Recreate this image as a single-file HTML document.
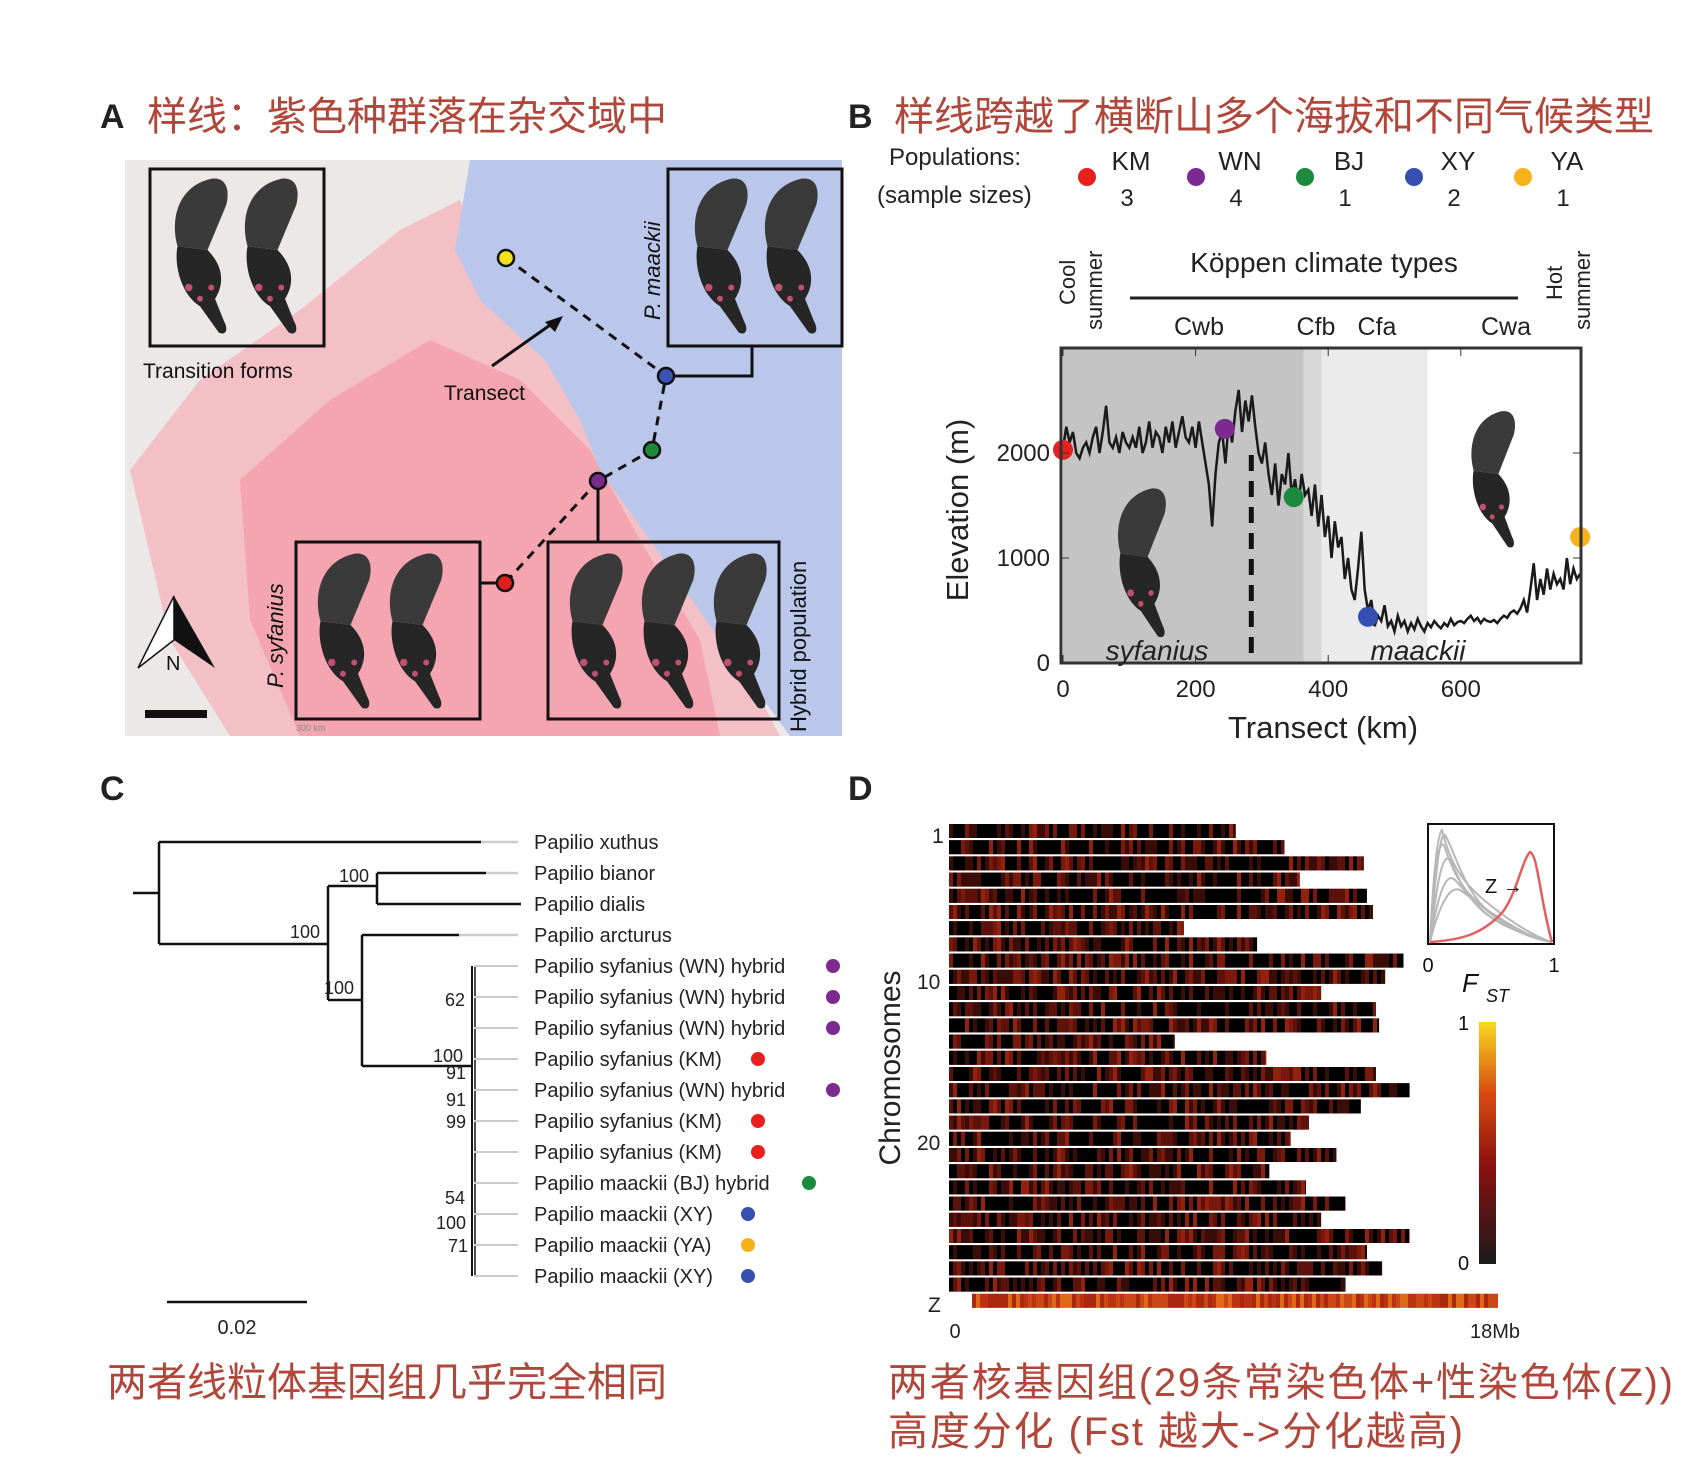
<!DOCTYPE html>
<html><head><meta charset="utf-8"><style>
body{margin:0;background:#fff;}
svg text{font-family:"Liberation Sans","DejaVu Sans","Noto Sans CJK SC",sans-serif;}
.cn{font-family:"Liberation Sans","Noto Sans CJK SC",sans-serif;fill:#b0473b;}
</style></head><body>
<svg id="fig" width="1700" height="1459" viewBox="0 0 1700 1459" xmlns="http://www.w3.org/2000/svg">
<defs>
<g id="bfly">
 <path d="M30,95 C20,60 30,15 75,5 C95,2 100,20 95,40 L70,100 Z" fill="#3a3a3a"/>
 <path d="M30,95 C25,120 35,160 60,175 L85,210 C95,215 98,205 92,195 L80,165 C90,150 95,125 70,100 Z" fill="#262626"/>
 <circle cx="45" cy="150" r="5" fill="#c05070"/><circle cx="60" cy="165" r="4" fill="#c05070"/><circle cx="75" cy="150" r="4" fill="#c05070"/>
</g>
<clipPath id="mapclip"><rect x="125" y="160" width="717" height="576"/></clipPath>
</defs>

<!-- Panel A -->
<text x="100" y="128" font-size="34" font-weight="bold" fill="#222">A</text>
<text x="147" y="130" font-size="40" class="cn" textLength="520">样线：紫色种群落在杂交域中</text>
<g clip-path="url(#mapclip)">
 <rect x="125" y="160" width="717" height="576" fill="#ece8e8"/>
 <polygon points="130,470 200,380 300,310 400,230 460,200 490,290 560,360 600,430 650,520 720,620 780,736 230,736 170,640" fill="#f5b3ba" opacity="0.75"/>
 <polygon points="240,480 330,400 430,340 520,380 590,450 640,540 700,640 720,736 300,736 250,620" fill="#f39aa5" opacity="0.7"/>
 <polygon points="470,160 842,160 842,736 790,736 720,640 650,540 600,470 580,420 545,360 480,300 455,250" fill="#bac6ea"/>
</g>
<g fill="none" stroke="#111" stroke-width="3">
 <rect x="150" y="169" width="174" height="177"/>
 <rect x="668" y="169" width="174" height="177"/>
 <rect x="296" y="542" width="184" height="177"/>
 <rect x="548" y="542" width="231" height="177"/>
 <polyline points="666,376 752,376 752,346"/>
 <line x1="598" y1="481" x2="598" y2="542"/>
 <line x1="480" y1="583" x2="505" y2="583"/>
 <polyline points="506,258 666,376 652,450 598,481 505,583" stroke-dasharray="9,7"/>
 <line x1="492" y1="366" x2="553" y2="323"/>
</g>
<polygon points="563,316 545,322 555,332" fill="#111"/>
<g transform="translate(155,175) scale(0.75)"><use href="#bfly"/></g><g transform="translate(225,175) scale(0.75)"><use href="#bfly"/></g>
<g transform="translate(675,175) scale(0.75)"><use href="#bfly"/></g><g transform="translate(745,175) scale(0.75)"><use href="#bfly"/></g>
<g transform="translate(298,550) scale(0.75)"><use href="#bfly"/></g><g transform="translate(370,550) scale(0.75)"><use href="#bfly"/></g>
<g transform="translate(550,550) scale(0.75)"><use href="#bfly"/></g><g transform="translate(622,550) scale(0.75)"><use href="#bfly"/></g><g transform="translate(694,550) scale(0.75)"><use href="#bfly"/></g>
<g stroke="#111" stroke-width="2.5">
 <circle cx="506" cy="258" r="8" fill="#f5e21b"/>
 <circle cx="666" cy="376" r="8" fill="#3b55b5"/>
 <circle cx="652" cy="450" r="8" fill="#1c8a3a"/>
 <circle cx="598" cy="481" r="8" fill="#7a2a8a"/>
 <circle cx="505" cy="583" r="8" fill="#e02020"/>
</g>
<text x="143" y="378" font-size="21" fill="#111">Transition forms</text>
<text x="444" y="400" font-size="21" fill="#111">Transect</text>
<text transform="translate(660,320) rotate(-90)" font-size="22" font-style="italic" fill="#111">P. maackii</text>
<text transform="translate(283,688) rotate(-90)" font-size="22" font-style="italic" fill="#111">P. syfanius</text>
<text transform="translate(806,732) rotate(-90)" font-size="22" fill="#111">Hybrid population</text>
<g>
 <polygon points="174,596 138,668 174,640" fill="#fff" stroke="#111" stroke-width="1.5"/>
 <polygon points="174,596 215,668 174,640" fill="#111"/>
 <text x="166" y="670" font-size="20" fill="#111">N</text>
</g>
<rect x="145" y="710" width="62" height="8" fill="#111"/>
<text x="296" y="731" font-size="9" fill="#888">300 km</text>

<!-- Panel B -->
<text x="848" y="128" font-size="34" font-weight="bold" fill="#222">B</text>
<text x="894" y="130" font-size="40" class="cn" textLength="760">样线跨越了横断山多个海拔和不同气候类型</text>
<text x="889" y="165" font-size="24" fill="#222">Populations:</text>
<text x="877" y="203" font-size="24" fill="#222">(sample sizes)</text>
<g id="legend"></g>
<text x="1324" y="272" font-size="28" text-anchor="middle" fill="#222">Köppen climate types</text>
<line x1="1130" y1="298" x2="1518" y2="298" stroke="#222" stroke-width="3"/>
<g font-size="25" fill="#222" text-anchor="middle">
 <text x="1199" y="335">Cwb</text><text x="1316" y="335">Cfb</text><text x="1377" y="335">Cfa</text><text x="1506" y="335">Cwa</text>
</g>
<text transform="translate(1075,305) rotate(-90)" font-size="22" fill="#222">Cool</text>
<text transform="translate(1102,330) rotate(-90)" font-size="22" fill="#222">summer</text>
<text transform="translate(1562,300) rotate(-90)" font-size="22" fill="#222">Hot</text>
<text transform="translate(1590,330) rotate(-90)" font-size="22" fill="#222">summer</text>
<g id="chartB"></g>
<text transform="translate(968,510) rotate(-90)" font-size="31" text-anchor="middle" fill="#222">Elevation (m)</text>
<text x="1323" y="738" font-size="31" text-anchor="middle" fill="#222">Transect (km)</text>

<!-- Panel C -->
<text x="100" y="800" font-size="34" font-weight="bold" fill="#222">C</text>
<g id="tree"></g>
<line x1="167" y1="1302" x2="307" y2="1302" stroke="#111" stroke-width="2.5"/>
<text x="237" y="1334" font-size="20" text-anchor="middle" fill="#222">0.02</text>
<text x="107" y="1396" font-size="40" class="cn" textLength="560">两者线粒体基因组几乎完全相同</text>

<!-- Panel D -->
<text x="848" y="800" font-size="34" font-weight="bold" fill="#222">D</text>
<g id="heat"></g>
<g font-size="21" fill="#222">
 <text x="932" y="843">1</text><text x="917" y="989">10</text><text x="917" y="1150">20</text><text x="928" y="1312">Z</text>
</g>
<text transform="translate(900,1068) rotate(-90)" font-size="30" text-anchor="middle" fill="#222">Chromosomes</text>
<text x="955" y="1338" font-size="20" text-anchor="middle" fill="#222">0</text>
<text x="1495" y="1338" font-size="20" text-anchor="middle" fill="#222">18Mb</text>
<g>
 <rect x="1428" y="824" width="126" height="120" fill="#fff" stroke="#111" stroke-width="2"/>
 <g stroke="#999" stroke-width="2" fill="none" opacity="0.7">
  <path d="M1430,942 C1435,880 1440,830 1445,835 C1455,850 1465,900 1500,920 C1520,935 1540,940 1552,942"/>
  <path d="M1430,942 C1436,890 1442,850 1450,860 C1460,880 1470,910 1505,925 C1525,935 1540,940 1552,942"/>
  <path d="M1430,942 C1434,870 1438,840 1444,845 C1452,870 1462,895 1495,915 C1520,932 1540,940 1552,942"/>
  <path d="M1430,942 C1437,900 1445,870 1455,880 C1470,895 1480,915 1510,928 C1530,937 1545,941 1552,942"/>
  <path d="M1430,942 C1433,880 1437,835 1442,830 C1450,860 1458,880 1490,905 C1515,925 1538,938 1552,942"/>
  <path d="M1430,942 C1438,910 1448,885 1460,890 C1475,900 1490,915 1515,930 C1535,938 1545,941 1552,942"/>
 </g>
 <path d="M1430,942 C1460,940 1480,935 1500,915 C1515,900 1522,860 1530,852 C1538,855 1540,900 1552,942" stroke="#e06060" stroke-width="2.5" fill="none"/>
 <text x="1485" y="893" font-size="20" fill="#111">Z →</text>
 <text x="1428" y="972" font-size="20" text-anchor="middle" fill="#111">0</text>
 <text x="1554" y="972" font-size="20" text-anchor="middle" fill="#111">1</text>
 <text x="1462" y="992" font-size="26" font-style="italic" font-family="Liberation Serif,serif" fill="#111">F</text>
 <text x="1486" y="1002" font-size="18" font-style="italic" font-family="Liberation Serif,serif" fill="#111">ST</text>
</g>
<defs><linearGradient id="cb" x1="0" y1="1" x2="0" y2="0">
 <stop offset="0" stop-color="#1a1a1a"/><stop offset="0.4" stop-color="#8a1010"/><stop offset="0.7" stop-color="#d84a10"/><stop offset="1" stop-color="#f8d820"/></linearGradient></defs>
<rect x="1479" y="1022" width="17" height="242" fill="url(#cb)"/>
<text x="1458" y="1030" font-size="20" fill="#111">1</text>
<text x="1458" y="1270" font-size="20" fill="#111">0</text>
<text x="888" y="1396" font-size="40" class="cn" textLength="785">两者核基因组(29条常染色体+性染色体(Z))</text>
<text x="888" y="1445" font-size="40" class="cn" textLength="575">高度分化 (Fst 越大->分化越高)</text>
</svg>
<script>
const NS="http://www.w3.org/2000/svg";
// ---- Panel B data ----
const popNames=["KM","WN","BJ","XY","YA"];
const popSizes=[3,4,1,2,1];
const popColors=["#e82020","#7d2a90","#1c8a3c","#3550b0","#f5b21a"];
const popKm=[0,244,348,460,780];
const popElev=[2030,2230,1580,440,1200];
const elevStep=5;
const elevation=[2050,2250,2100,2200,2000,1950,2050,2100,2000,2150,2250,
2000,2200,2450,2100,2050,2150,2000,2200,2100,2050,
2150,2050,2250,2000,2100,2300,2050,2200,2150,2000,
2250,2100,2300,2050,2200,2350,2150,2100,2250,2050,
2300,2100,1900,1700,1300,1800,2100,2200,1900,2300,
2100,2400,2600,2200,2500,2300,2550,2250,2000,1900,
2100,1800,1600,1900,1500,1800,1700,2000,1600,1750,
1500,1800,1600,1650,1400,1700,1300,1600,1200,1400,
1000,1350,1100,1200,800,1000,700,600,900,1250,
700,500,600,350,450,400,550,350,400,300,
450,350,400,300,380,320,420,350,300,380,
340,400,360,330,380,350,420,360,390,400,
380,420,450,400,430,380,420,400,390,410,
380,420,450,430,480,500,470,520,600,480,
700,950,600,800,650,900,700,850,750,800,
700,1000,750,900,800,850];
const xTicks=[0,200,400,600];
const yTicks=[0,1000,2000];
const zoneKm=[0,363,390,550,785];
const zoneFill=["#c4c4c4","#d8d8d8","#ebebeb","#ffffff"];
const boundaryKm=284;
const X=k=>1063+k*0.663, Y=e=>663-e*0.105;
function el(tag,attrs,parent){const e=document.createElementNS(NS,tag);for(const k in attrs)e.setAttribute(k,attrs[k]);parent.appendChild(e);return e;}
const lg=document.getElementById('legend');
popNames.forEach((n,i)=>{const cx=1087+i*109;
 const c=el('circle',{cx:cx,cy:177,r:9,fill:popColors[i]},lg);
 
 
 const t=el('text',{x:cx+44,y:170,'font-size':26,'text-anchor':'middle',fill:'#222'},lg);t.textContent=n;
 
 
 const s=el('text',{x:cx+40,y:206,'font-size':24,'text-anchor':'middle',fill:'#222'},lg);s.textContent=popSizes[i];
 
 
});
const cb=document.getElementById('chartB');
for(let i=0;i<zoneFill.length;i++){const r=el('rect',{x:X(zoneKm[i]),y:348,width:Math.min(X(zoneKm[i+1]),1581)-X(zoneKm[i]),height:315,fill:zoneFill[i]},cb);
 
 }
const bl=el('line',{x1:X(boundaryKm),y1:455,x2:X(boundaryKm),y2:663,stroke:'#111','stroke-width':5,'stroke-dasharray':'16,10'},cb);


el('use',{href:'#bfly',transform:'translate(1100,485) scale(0.68,0.72)'},cb);
el('use',{href:'#bfly',transform:'translate(1455,408) scale(0.62,0.66)'},cb);
const pl=el('polyline',{points:elevation.map((e,i)=>X(i*elevStep)+','+Y(e)).join(' '),fill:'none',stroke:'#1a1a1a','stroke-width':2.5},cb);


popKm.forEach((k,i)=>{const c=el('circle',{cx:X(k),cy:Y(popElev[i]),r:10,fill:popColors[i]},cb);
 
 });
const fr=el('rect',{x:1061,y:348,width:520,height:315,fill:'none',stroke:'#333','stroke-width':3},cb);


[['sfy','syfanius',1157],['mck','maackii',1418]].forEach(a=>{const t=el('text',{x:a[2],y:660,'font-size':28,'font-style':'italic','text-anchor':'middle',fill:'#222'},cb);t.textContent=a[1];
 
 });
xTicks.forEach(v=>{el('line',{x1:X(v),y1:348,x2:X(v),y2:356,stroke:'#333'},cb);el('line',{x1:X(v),y1:655,x2:X(v),y2:663,stroke:'#333'},cb);
 const t=el('text',{x:X(v),y:697,'font-size':24,'text-anchor':'middle',fill:'#222'},cb);t.textContent=v;
 
 });
yTicks.forEach(v=>{el('line',{x1:1061,y1:Y(v),x2:1069,y2:Y(v),stroke:'#333'},cb);el('line',{x1:1573,y1:Y(v),x2:1581,y2:Y(v),stroke:'#333'},cb);
 const t=el('text',{x:1050,y:Y(v)+8,'font-size':24,'text-anchor':'end',fill:'#222'},cb);t.textContent=v;
 
 });
// ---- Panel C tree ----
const taxa=["Papilio xuthus","Papilio bianor","Papilio dialis","Papilio arcturus","Papilio syfanius (WN) hybrid","Papilio syfanius (WN) hybrid","Papilio syfanius (WN) hybrid","Papilio syfanius (KM)","Papilio syfanius (WN) hybrid","Papilio syfanius (KM)","Papilio syfanius (KM)","Papilio maackii (BJ) hybrid","Papilio maackii (XY)","Papilio maackii (YA)","Papilio maackii (XY)"];
const taxonPop=["","","","","WN","WN","WN","KM","WN","KM","KM","BJ","XY","YA","XY"];
const dotX=[0,0,0,0,833,833,833,758,833,758,758,809,748,748,748];
const bootstrap=["100","100","100","62","100","91","91","99","54","100","71"];
const tr=document.getElementById('tree');
const RY=i=>842+i*31;
function L(x1,y1,x2,y2,c,w){el('line',{x1,y1,x2,y2,stroke:c||'#111','stroke-width':w||2.5},tr);}
L(133,893,159,893);L(159,RY(0),159,944);L(159,RY(0),481,RY(0));L(481,RY(0),518,RY(0),'#ccc');
L(159,944,328,944);L(328,886,328,1000);L(328,886,377,886);L(377,RY(1),377,RY(2));
L(377,RY(1),486,RY(1));L(486,RY(1),518,RY(1),'#ccc');L(377,RY(2),521,RY(2));
L(328,1000,362,1000);L(362,RY(3),362,1066);L(362,RY(3),459,RY(3));L(459,RY(3),518,RY(3),'#ccc');
L(362,1066,472,1066);L(472,RY(4),472,RY(14),'#111',2);L(475,RY(4),475,RY(14),'#111',1.5);
for(let i=4;i<15;i++)L(474,RY(i),518,RY(i),'#ccc',2);
taxa.forEach((n,i)=>{const t=el('text',{x:534,y:RY(i)+7,'font-size':20,fill:'#222'},tr);t.textContent=n;
 
 
 if(taxonPop[i]){const c=el('circle',{cx:dotX[i],cy:RY(i),r:7,fill:popColors[popNames.indexOf(taxonPop[i])]},tr);
 
 }});
const bsPos=[[354,882],[305,938],[339,994],[455,1006],[448,1062],[456,1079],[456,1106],[456,1128],[455,1204],[451,1229],[458,1252]];
bootstrap.forEach((b,i)=>{const t=el('text',{x:bsPos[i][0],y:bsPos[i][1],'font-size':18,'text-anchor':'middle',fill:'#222'},tr);t.textContent=b;
 
 });
// ---- Panel D heatmap ----
const chromLengthsMb=[9.4,11.0,13.6,11.5,13.7,13.9,7.7,10.1,14.9,14.3,12.2,14.0,14.1,7.4,10.4,14.0,15.1,13.5,11.8,11.2,12.7,10.5,11.7,13.0,12.2,15.1,13.7,14.2,13.0,18.0];
const hm=document.getElementById('heat');
const pal=["#3a0c08","#5c120a","#7a180c","#94200e","#a82810","#bb3212","#cc4616","#de6a18","#eea020","#f5c52a"];
function h(a,b){let x=(a*374761393+b*668265263)>>>0;x=(x^(x>>>13))*1274126177>>>0;return (x^(x>>>16))/4294967296;}
chromLengthsMb.forEach((len,r)=>{
 const y=824+r*16.2, w=len*30.5, isZ=r===chromLengthsMb.length-1;
 const g=el('g',{},hm);
 
 
 const x0=isZ?972:949;
 el('rect',{x:x0,y:y,width:949+w-x0,height:14,fill:isZ?'#e08a18':'#7a180c'},g);
 for(let s=0;x0+s*4<949+w;s++){const v=h(r,s);let idx;
  if(isZ)idx=6+Math.floor(v*4);else idx=Math.floor(Math.pow(v,1.3)*9);
  if(!isZ&&h(s,r+99)>0.985)continue;
  el('rect',{x:x0+s*4,y:y,width:Math.min(4,949+w-x0-s*4),height:14,fill:pal[Math.min(idx,9)]},g);}
});
</script>
</body></html>
